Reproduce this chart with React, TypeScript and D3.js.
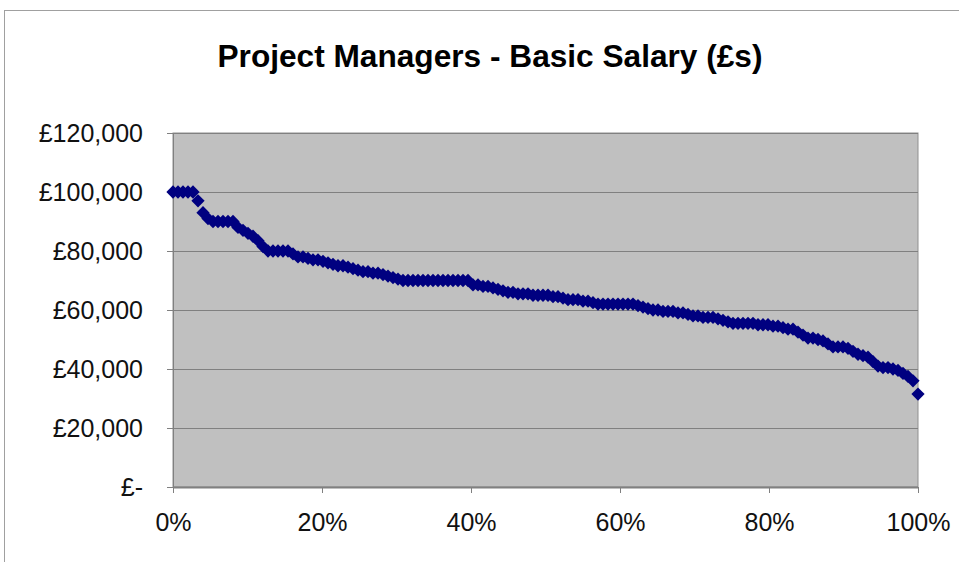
import React from 'react'
import { scaleLinear, symbol, symbolSquare } from 'd3'

const title = 'Project Managers - Basic Salary (£s)'

// basic salary of each project manager, ranked highest to lowest
const salaries = [
  100000, 100000, 100000, 100000, 100000, 97000, 93000, 91000, 90000, 90000,
  90000, 90000, 90000, 88000, 87000, 86000, 85000, 83500, 81500, 80000,
  80000, 80000, 80000, 80000, 79000, 78000, 78000, 77500, 77000, 77000,
  76500, 76000, 75500, 75000, 75000, 74500, 74000, 73500, 73000, 73000,
  72500, 72500, 72000, 71500, 71000, 70500, 70000, 70000, 70000, 70000,
  70000, 70000, 70000, 70000, 70000, 70000, 70000, 70000, 70000, 70000,
  68500, 68500, 68000, 68000, 67500, 67000, 66500, 66000, 66000, 65500,
  65500, 65500, 65000, 65000, 65000, 65000, 64500, 64500, 64000, 63500,
  63500, 63500, 63000, 63000, 62500, 62000, 62000, 62000, 62000, 62000,
  62000, 62000, 62000, 61500, 61000, 60500, 60000, 60000, 59500, 59500,
  59500, 59000, 59000, 58500, 58000, 58000, 57500, 57500, 57500, 57000,
  56500, 56000, 55500, 55500, 55500, 55500, 55500, 55000, 55000, 55000,
  54500, 54500, 54000, 53500, 53500, 52500, 51500, 50500, 50500, 50000,
  49500, 48500, 47500, 47500, 47500, 47000, 46000, 45000, 44500, 44000,
  42500, 41000, 40500, 40500, 40000, 39500, 38500, 37500, 36000, 31500,
]

const yTicks = [0, 20000, 40000, 60000, 80000, 100000, 120000]
const yTickLabels = ['£-', '£20,000', '£40,000', '£60,000', '£80,000', '£100,000', '£120,000']
const xTicks = [0, 0.2, 0.4, 0.6, 0.8, 1]
const xTickLabels = ['0%', '20%', '40%', '60%', '80%', '100%']

const width = 959
const height = 562
const plot = { left: 173, right: 918, top: 133, bottom: 487 }

export default function App() {
  const x = scaleLinear().domain([0, 1]).range([plot.left, plot.right])
  const y = scaleLinear().domain([0, 120000]).range([plot.bottom, plot.top])
  const n = salaries.length
  // excel style diamond = square turned 45deg
  const marker = symbol().type(symbolSquare).size(88)()

  return (
    <svg
      width={width}
      height={height}
      style={{ position: 'absolute', left: 0, top: 0, background: '#fff' }}
      fontFamily="'Liberation Sans', Arial, sans-serif"
    >
      {/* chart area border */}
      <rect x={4.5} y={10.5} width={width + 20} height={height + 20} fill="#fff" stroke="#a0a0a0" />

      <text x={490} y={67} textAnchor="middle" fontSize={31} fontWeight="bold" textLength={545} lengthAdjust="spacingAndGlyphs">
        {title}
      </text>

      <rect
        x={plot.left}
        y={plot.top}
        width={plot.right - plot.left}
        height={plot.bottom - plot.top}
        fill="#c0c0c0"
        stroke="#909090"
      />

      <g className="grid">
        {yTicks.slice(1).map((t) => (
          <line key={t} x1={plot.left} x2={plot.right} y1={Math.round(y(t)) + 0.5} y2={Math.round(y(t)) + 0.5} stroke="#808080" />
        ))}
      </g>

      <g className="y-axis">
        <line x1={plot.left + 0.5} x2={plot.left + 0.5} y1={plot.top} y2={plot.bottom} stroke="#808080" />
        {yTicks.map((t, i) => (
          <g key={t} transform={`translate(0,${Math.round(y(t)) + 0.5})`}>
            <line x1={plot.left - 6} x2={plot.left} stroke="#808080" />
            <text x={143} dy="0.35em" textAnchor="end" fontSize={25} fill="#111">
              {yTickLabels[i]}
            </text>
          </g>
        ))}
      </g>

      <g className="x-axis">
        <line x1={plot.left} x2={plot.right} y1={plot.bottom + 0.5} y2={plot.bottom + 0.5} stroke="#808080" strokeWidth={2} />
        {xTicks.map((t, i) => (
          <g key={t} transform={`translate(${Math.round(x(t)) + 0.5},0)`}>
            <line y1={plot.bottom} y2={plot.bottom + 6} stroke="#808080" />
            <text y={531} textAnchor="middle" fontSize={25} fill="#111">
              {xTickLabels[i]}
            </text>
          </g>
        ))}
      </g>

      <g className="points" fill="#000080">
        {salaries.map((s, i) => (
          <path key={i} d={marker} transform={`translate(${x(i / (n - 1))},${y(s)}) rotate(45)`} />
        ))}
      </g>
    </svg>
  )
}
